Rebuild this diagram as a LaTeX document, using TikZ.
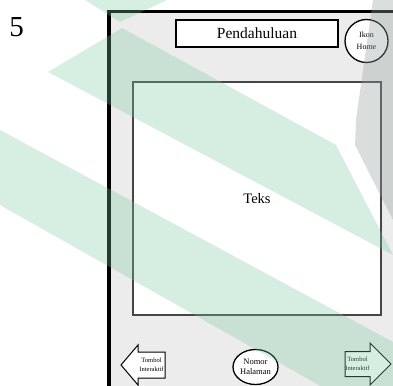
\documentclass[tikz,border=0pt]{standalone}
\usepackage{fontspec}
\setmainfont{Liberation Serif}
\usetikzlibrary{shapes.geometric}
\definecolor{abulayar}{RGB}{236,236,236}
\definecolor{hijauwm}{RGB}{118,202,158}
\definecolor{abuwm}{RGB}{150,160,158}
\definecolor{garisisi}{RGB}{70,70,70}
\tikzset{
    x=1pt, y=-1pt, % one unit is one pixel of the sketch, y runs downwards
    kotakjudul/.style={draw, line width=1.3pt, fill=white, inner sep=0pt, font=\fontsize{15.5}{17}\selectfont}, % box of the page title
    bulat/.style={draw, circle, line width=1.3pt, fill=white, inner sep=0pt, align=center}, % round buttons
    layar/.style={draw=garisisi, line width=1.2pt, fill=white, inner sep=0pt, font=\fontsize{14.5}{16}\selectfont}, % area of the text
    panah/.style={draw, line width=1pt, fill=white, line join=miter}, % outline of the arrow buttons
    tekspanah/.style={inner sep=0pt, align=center, font=\fontsize{6.5}{9}\selectfont}, % text in the arrow buttons
    watermark/.style={fill=hijauwm, fill opacity=0.3}, % green stripes lying over the sketch
}

\begin{document}
\begin{tikzpicture}
        \useasboundingbox (0,0) rectangle (393,385);
        \clip (0,0) rectangle (393,385);

        % number of the sketch
        \node[font=\fontsize{29}{30}\selectfont] (nomorsketsa) at (16.5,27.5) {5};

        % screen frame
        \fill[abulayar] (109,11.5) rectangle (400,400);
        \draw[line width=3.5pt] (109,400) |- (400,11.5);

        % top bar
        \node[kotakjudul, minimum width=162, minimum height=27] (judul) at (257,33.5) {Pendahuluan};
        \node[bulat, minimum size=43, font=\fontsize{8}{11.5}\selectfont] (home) at (366.5,41) {Ikon\\Home};

        % text area
        \node[layar, minimum width=248, minimum height=233] (teks) at (257,198.5) {Teks};

        % bottom bar
        \node[bulat, ellipse, minimum width=45, minimum height=35, font=\fontsize{8.5}{10}\selectfont] (halaman) at (255.5,367) {Nomor\\Halaman};
        \draw[panah] (121,365) -- (138,345) -- (138,352) -- (165,352) -- (165,378) -- (138,378) -- (138,385) -- cycle;
        \node[tekspanah] (kembali) at (151.5,365) {Tombol\\Interaktif};
        \draw[panah] (391,364) -- (370,343) -- (370,351.5) -- (345,351.5) -- (345,376.5) -- (370,376.5) -- (370,385) -- cycle;
        \node[tekspanah] (lanjut) at (357.5,364) {Tombol\\Interaktif};

        % watermark
        \fill[watermark] (85,0) -- (167,0) -- (120,22) -- cycle;
        \fill[watermark] (48,72) -- (122,28) -- (336,145) -- (393,255) -- cycle;
        \fill[watermark] (0,130) -- (393,342) -- (393,427) -- (0,205) -- cycle;
        \fill[abuwm, fill opacity=0.35] (373,0) -- (393,0) -- (393,220) -- (355,145) -- (356,120) -- cycle;
\end{tikzpicture}
\end{document}
